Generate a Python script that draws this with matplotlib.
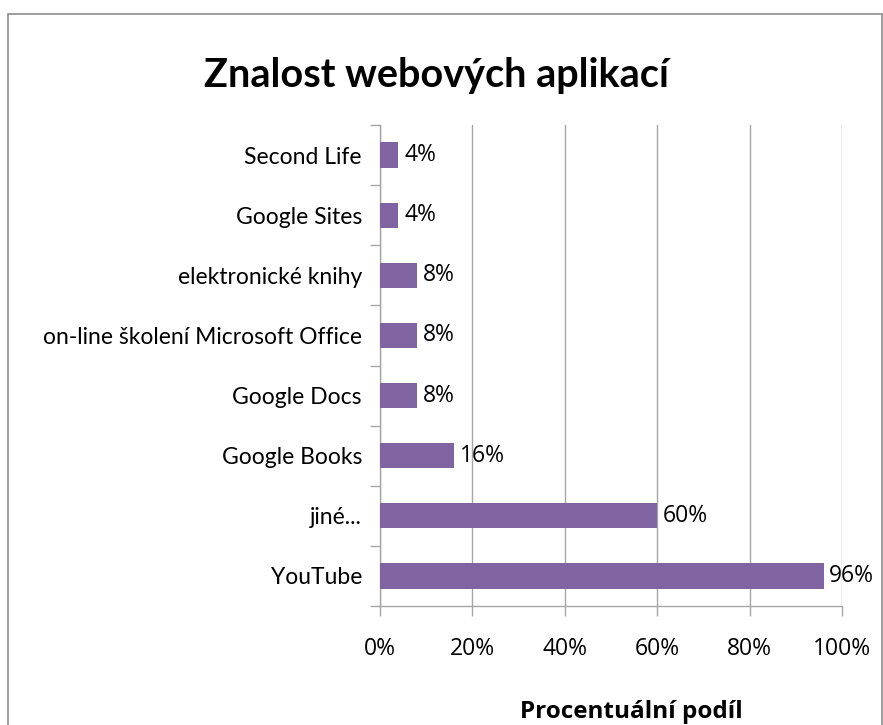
import matplotlib
matplotlib.use("Agg")
import matplotlib.pyplot as plt
from matplotlib.patches import Rectangle

plt.rcParams['font.family'] = ['Lato', 'DejaVu Sans']

categories = ["YouTube", "jiné...", "Google Books", "Google Docs",
              "on-line školení Microsoft Office", "elektronické knihy",
              "Google Sites", "Second Life"]
values = [96, 60, 16, 8, 8, 8, 4, 4]
xticks = [0, 20, 40, 60, 80, 100]
xtick_labels = ["0%", "20%", "40%", "60%", "80%", "100%"]

bar_color = "#8064A2"
grid_color = "#A6A6A6"

fig = plt.figure(figsize=(8.83, 7.25), dpi=100)
fig.patches.append(Rectangle((8/883, -0.01), (883-8)/883 - 0.001, 1 - 14/725 + 0.01,
                             transform=fig.transFigure, fill=False,
                             edgecolor="#8C8C8C", linewidth=1.2))

ax = fig.add_axes([380/883, 1 - 606/725, (842-380)/883, (606-125)/725])
y = list(range(len(categories)))
ax.barh(y, values, height=0.42, color=bar_color, zorder=3)
for yi, v in zip(y, values):
    ax.text(v + 1.2, yi, f"{v}%", va="center", ha="left", fontsize=16.5,
            color="#000000", family=['Open Sans', 'DejaVu Sans'])

ax.set_xlim(0, 100)
ax.set_ylim(-0.5, len(categories) - 0.5)
ax.set_xticks(xticks)
ax.set_xticklabels(xtick_labels, fontsize=16.5, family=['Open Sans', 'DejaVu Sans'])
ax.set_yticks(y)
ax.set_yticklabels(categories, fontsize=16.5)
ax.tick_params(axis='y', length=0, pad=13)
ax.set_yticks([i - 0.5 for i in range(len(categories) + 1)], minor=True)
ax.tick_params(axis='y', which='minor', length=7, color=grid_color, width=1)
ax.tick_params(axis='x', length=7, color=grid_color, width=1, pad=15)
ax.grid(axis='x', color=grid_color, linewidth=1, zorder=0)
for s in ["top", "right"]:
    ax.spines[s].set_visible(False)
for s in ["left", "bottom"]:
    ax.spines[s].set_color(grid_color)
    ax.spines[s].set_linewidth(1)

fig.text(631/883, 1 - 712/725, "Procentuální podíl", ha="center", va="center",
         fontsize=17.5, fontweight="bold", family=['Open Sans', 'DejaVu Sans'])

fig.text(436/883, 1 - 75/725, "Znalost webových aplikací",
         ha="center", va="center", fontsize=28.5, fontweight="bold")

fig.savefig("out.png", dpi=100)
